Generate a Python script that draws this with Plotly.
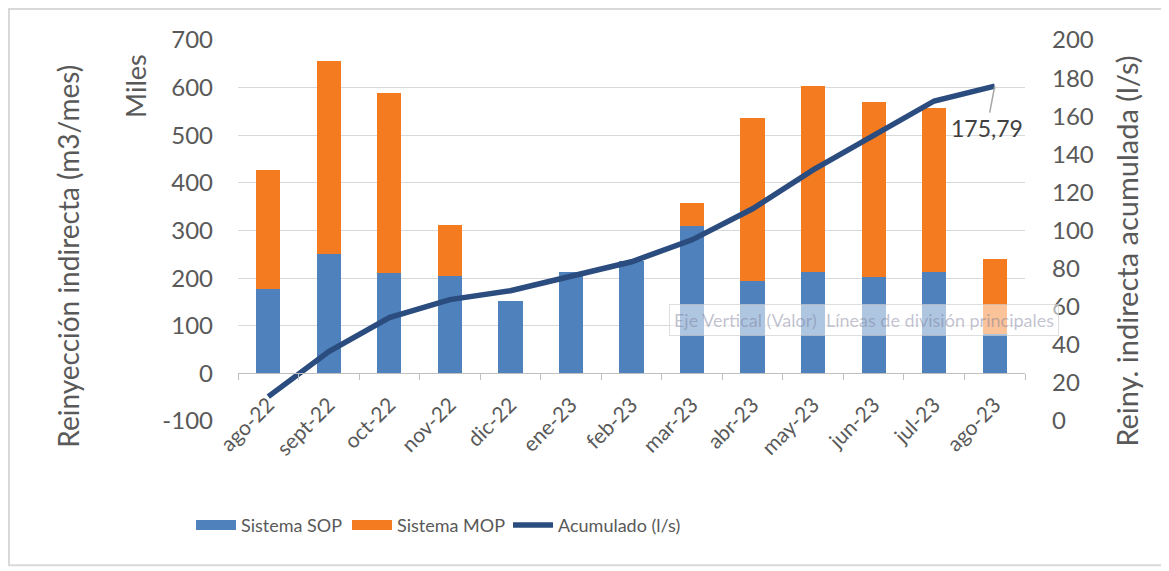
import plotly.graph_objects as go

months = ["ago-22", "sept-22", "oct-22", "nov-22", "dic-22", "ene-23", "feb-23",
          "mar-23", "abr-23", "may-23", "jun-23", "jul-23", "ago-23"]
sop = [178, 251, 210, 205, 153, 212, 235, 310, 193, 212, 203, 212, 82]
mop = [250, 405, 379, 107, 0, 0, 0, 48, 344, 392, 367, 346, 159]
acumulado = [12.8, 36.4, 54.3, 63.7, 68.4, 75.8, 83.6, 95.1, 111.4, 131.8, 150.2, 168.0, 175.79]
left_ticks = [-100, 0, 100, 200, 300, 400, 500, 600, 700]
left_tick_text = ["-100", "0", "100", "200", "300", "400", "500", "600", "700"]

FONT = "Lato"
TXT = "#595959"
C_SOP, C_MOP, C_ACU = "#4F81BD", "#F47B20", "#2B4C7E"

fig = go.Figure()
fig.add_trace(go.Bar(x=months, y=sop, name="Sistema SOP", marker_color=C_SOP,
                     marker_line_width=0, showlegend=False))
fig.add_trace(go.Bar(x=months, y=mop, name="Sistema MOP", marker_color=C_MOP,
                     marker_line_width=0, showlegend=False))
fig.add_trace(go.Scatter(x=months, y=acumulado, name="Acumulado (l/s)", yaxis="y2",
                         mode="lines", line=dict(color=C_ACU, width=5.5),
                         legend="legend3"))
# legend entries with wide swatches (Excel style)
fig.add_trace(go.Scatter(x=[None], y=[None], name="Sistema SOP", mode="lines",
                         line=dict(color=C_SOP, width=15), legend="legend"))
fig.add_trace(go.Scatter(x=[None], y=[None], name="Sistema MOP", mode="lines",
                         line=dict(color=C_MOP, width=15), legend="legend2"))

# page body has an 8px margin: figure coords = reference coords - 8
OFF = 8
FW, FH = 1169 - OFF, 571 - OFF
L, T = 238 - OFF, 40 - OFF
W, H = 787, 381.5
R, B = FW - L - W, FH - T - H

def px(x):
    return (x - 238) / W

def py(y):
    return (421.5 - y) / H

def leg(x):
    return dict(orientation="h", x=px(x), y=py(526), xanchor="left", yanchor="middle",
                font=dict(size=18, color=TXT, family=FONT), itemwidth=40,
                bgcolor="rgba(0,0,0,0)")

fig.update_layout(
    width=FW, height=FH,
    margin=dict(l=L, r=R, t=T, b=B, autoexpand=False),
    paper_bgcolor="white", plot_bgcolor="white",
    barmode="stack", bargap=0.6,
    font=dict(family=FONT, color=TXT, size=18),
    showlegend=True,
    legend=leg(191), legend2=leg(347), legend3=leg(508),
    xaxis=dict(type="category", anchor="free", position=0.125, showline=True,
               linecolor="#BFBFBF", linewidth=1, ticks="outside", tickson="boundaries",
               ticklen=6, tickcolor="#BFBFBF", tickangle=-45, showgrid=False,
               ticklabelstandoff=10,
               automargin=False, tickfont=dict(size=21, color=TXT)),
    yaxis=dict(range=[-100, 700], tickvals=left_ticks, ticktext=left_tick_text,
               showgrid=True, gridcolor="#D9D9D9",
               gridwidth=1, zeroline=False, showline=False, ticks="", automargin=False,
               ticklabelstandoff=24, tickfont=dict(size=24, color=TXT)),
    yaxis2=dict(range=[0, 200], dtick=20, overlaying="y", side="right", showgrid=False,
                zeroline=False, showline=False, ticks="", ticklabelstandoff=26,
                automargin=False, tickfont=dict(size=24, color=TXT)),
    shapes=[dict(type="rect", xref="paper", yref="paper",
                 x0=px(9), x1=px(1164), y0=py(566), y1=py(9),
                 line=dict(color="#D9D9D9", width=2), fillcolor="rgba(0,0,0,0)",
                 layer="below")],
    annotations=[
        dict(text="Reinyección indirecta (m3/mes)", xref="paper", yref="paper",
             x=px(68), y=py(257), xanchor="center", yanchor="middle",
             textangle=-90, showarrow=False, font=dict(size=28, color=TXT)),
        dict(text="Miles", xref="paper", yref="paper", x=px(136), y=py(86),
             xanchor="center", yanchor="middle",
             textangle=-90, showarrow=False, font=dict(size=27, color=TXT)),
        dict(text="Reiny. indirecta acumulada (l/s)", xref="paper", yref="paper",
             x=px(1127), y=py(252), xanchor="center", yanchor="middle",
             textangle=-90, showarrow=False, font=dict(size=29, color=TXT)),
        dict(text="175,79", x=months[-1], y=acumulado[-1], xref="x", yref="y2",
             showarrow=True, arrowhead=0, arrowwidth=1.5, arrowcolor="#A6A6A6",
             ax=-8, ay=42, font=dict(size=23, color="#404040")),
        dict(text="Eje Vertical (Valor)  Líneas de división principales",
             xref="paper", yref="paper", x=px(864), y=py(320),
             xanchor="center", yanchor="middle",
             showarrow=False, bgcolor="rgba(255,255,255,0.55)",
             bordercolor="rgba(200,200,200,0.6)", borderwidth=1, borderpad=4,
             font=dict(size=18, color="rgba(120,120,150,0.45)")),
    ],
)

fig.write_html("out.html")
